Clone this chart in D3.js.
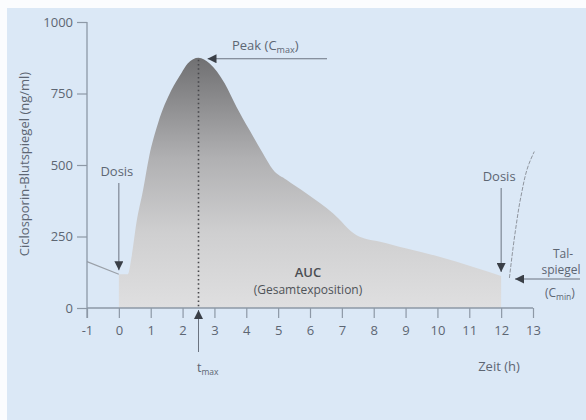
<!DOCTYPE html>
<html><head><meta charset="utf-8">
<script src="https://cdn.jsdelivr.net/npm/d3@7"></script>
<style>body{margin:0;background:#fff}svg{display:block}text{font-family:"Open Sans","Noto Sans",sans-serif}</style>
</head><body><svg id="c" width="586" height="420"></svg>
<script>
// data
const xTicks = [-1,0,1,2,3,4,5,6,7,8,9,10,11,12,13];
const yTicks = [0,250,500,750,1000];
const times  = [0,0.28,0.40,0.55,0.76,0.95,1.23,1.65,1.96,2.16,2.5,2.85,3.32,3.69,4.1,4.52,4.84,5.26,5.88,6.72,7.45,7.8,8.2,9.0,10.06,11.1,12];
const values = [118,118,179,297,413,529,646,762,821,855,875,855,786,704,622,541,483,448,401,331,255,240,232,209,179,144,112];
const preTimes = [-1,0];
const preValues = [162,118];
const nextTimes = [12.26,12.45,12.62,12.88,13.04];
const nextValues = [105,272,389,506,547];
const tMax = 2.5, cMax = 875;

const svg = d3.select("#c");
const txt = "#5d6673", axc = "#8d98a6";
svg.append("rect").attr("width",586).attr("height",420).attr("fill","#fbfcfe");
svg.append("rect").attr("x",7).attr("y",8).attr("width",579).attr("height",412).attr("fill","#dbe8f6");

const x = d3.scaleLinear().domain([-1,13]).range([87,533]);
const y = d3.scaleLinear().domain([0,1000]).range([308,22]);

const defs = svg.append("defs");
const g = defs.append("linearGradient").attr("id","gr").attr("gradientUnits","userSpaceOnUse")
  .attr("x1",0).attr("x2",0).attr("y1",y(cMax)).attr("y2",y(0));
g.append("stop").attr("offset",0).attr("stop-color","#707072");
g.append("stop").attr("offset",0.4).attr("stop-color","#b0b0b2");
g.append("stop").attr("offset",0.7).attr("stop-color","#cfcfd0");
g.append("stop").attr("offset",1).attr("stop-color","#dfdfe0");
const mk = defs.append("marker").attr("id","ah").attr("viewBox","0 0 10 10").attr("refX",10).attr("refY",5)
  .attr("markerWidth",9).attr("markerHeight",9).attr("markerUnits","userSpaceOnUse").attr("orient","auto");
mk.append("path").attr("d","M0,0L10,5L0,10Z").attr("fill","#3a3f47");

const pts = times.map((t,i)=>[t,values[i]]);
svg.append("path").datum(pts)
  .attr("d", d3.area().x(d=>x(d[0])).y0(y(0)).y1(d=>y(d[1])).curve(d3.curveMonotoneX))
  .attr("fill","url(#gr)");

// previous and next dose curves
svg.append("path").datum(preTimes.map((t,i)=>[t,preValues[i]]))
  .attr("d", d3.line().x(d=>x(d[0])).y(d=>y(d[1])))
  .attr("fill","none").attr("stroke","#9aa0a8").attr("stroke-width",1.2);
svg.append("path").datum(nextTimes.map((t,i)=>[t,nextValues[i]]))
  .attr("d", d3.line().x(d=>x(d[0])).y(d=>y(d[1])).curve(d3.curveMonotoneY))
  .attr("fill","none").attr("stroke","#8f959e").attr("stroke-width",1).attr("stroke-dasharray","4,1.5");

// axes
const xa = svg.append("g").attr("transform",`translate(0,${y(0)})`)
  .call(d3.axisBottom(x).tickValues(xTicks).tickSize(10).tickPadding(8).tickFormat(d=>String(d)));
const ya = svg.append("g").attr("transform",`translate(${x(-1)},0)`)
  .call(d3.axisLeft(y).tickValues(yTicks).tickSize(10).tickPadding(4).tickFormat(d=>String(d)));
[xa,ya].forEach(a=>{
  a.select(".domain").remove();
  a.selectAll("line").attr("stroke",axc).attr("stroke-width",1.2);
  a.selectAll("text").attr("fill",txt).attr("font-size",13).attr("font-family","'Open Sans','Noto Sans',sans-serif");
});
svg.append("line").attr("x1",x(-1)).attr("x2",x(13)).attr("y1",y(0)).attr("y2",y(0)).attr("stroke",axc).attr("stroke-width",1.3);
svg.append("line").attr("x1",x(-1)).attr("x2",x(-1)).attr("y1",y(1000)).attr("y2",y(0)+10).attr("stroke",axc).attr("stroke-width",1.3);

// t_max dotted line
svg.append("line").attr("x1",x(tMax)).attr("x2",x(tMax)).attr("y1",y(cMax)+2).attr("y2",y(0))
  .attr("stroke","#46464a").attr("stroke-width",1.6).attr("stroke-dasharray","1.5,2.8");
svg.append("line").attr("x1",x(tMax)).attr("x2",x(tMax)).attr("y1",352).attr("y2",y(0)+2)
  .attr("stroke","#6b7380").attr("stroke-width",1).attr("marker-end","url(#ah)");

// dose arrows
[[0,183],[12,188]].forEach(([t,y1])=>{
  const v = values[times.indexOf(t)];
  svg.append("line").attr("x1",x(t)).attr("x2",x(t)).attr("y1",y1).attr("y2",y(v)-4)
    .attr("stroke","#6b7380").attr("stroke-width",1).attr("marker-end","url(#ah)");
  svg.append("text").attr("x",x(t)-2).attr("y",y1-7).attr("text-anchor","middle")
    .attr("fill",txt).attr("font-size",13).text("Dosis");
});
// peak arrow
svg.append("line").attr("x1",327).attr("x2",x(tMax)+9).attr("y1",y(cMax)+1).attr("y2",y(cMax)+1)
  .attr("stroke","#6b7380").attr("stroke-width",1).attr("marker-end","url(#ah)");
const pk = svg.append("text").attr("x",232).attr("y",50).attr("fill",txt).attr("font-size",13);
pk.append("tspan").text("Peak (C");
pk.append("tspan").attr("font-size",9).attr("dy",3).text("max");
pk.append("tspan").attr("dy",-3).text(")");
// trough arrow
svg.append("line").attr("x1",580).attr("x2",515).attr("y1",279).attr("y2",279)
  .attr("stroke","#6b7380").attr("stroke-width",1).attr("marker-end","url(#ah)");
svg.append("text").attr("x",563).attr("y",258).attr("text-anchor","middle").attr("fill",txt).attr("font-size",12).text("Tal-");
svg.append("text").attr("x",561).attr("y",274).attr("text-anchor","middle").attr("fill",txt).attr("font-size",12).text("spiegel");
const cm = svg.append("text").attr("x",545).attr("y",297).attr("fill",txt).attr("font-size",12);
cm.append("tspan").text("(C");
cm.append("tspan").attr("font-size",8.5).attr("dy",3).text("min");
cm.append("tspan").attr("dy",-3).text(")");

// AUC
svg.append("text").attr("x",308).attr("y",277).attr("text-anchor","middle").attr("fill","#4a4d52").attr("font-size",13).attr("font-weight","600").text("AUC");
svg.append("text").attr("x",308).attr("y",294).attr("text-anchor","middle").attr("fill","#4f5358").attr("font-size",12).text("(Gesamtexposition)");

// labels
const tm = svg.append("text").attr("x",197).attr("y",372).attr("fill",txt).attr("font-size",12.5);
tm.append("tspan").text("t");
tm.append("tspan").attr("font-size",8.5).attr("dy",3).text("max");
svg.append("text").attr("x",499).attr("y",371).attr("text-anchor","middle").attr("fill",txt).attr("font-size",13).text("Zeit (h)");
svg.append("text").attr("transform","translate(29,164) rotate(-90)").attr("text-anchor","middle")
  .attr("fill",txt).attr("font-size",13).text("Ciclosporin-Blutspiegel (ng/ml)");
</script></body></html>
